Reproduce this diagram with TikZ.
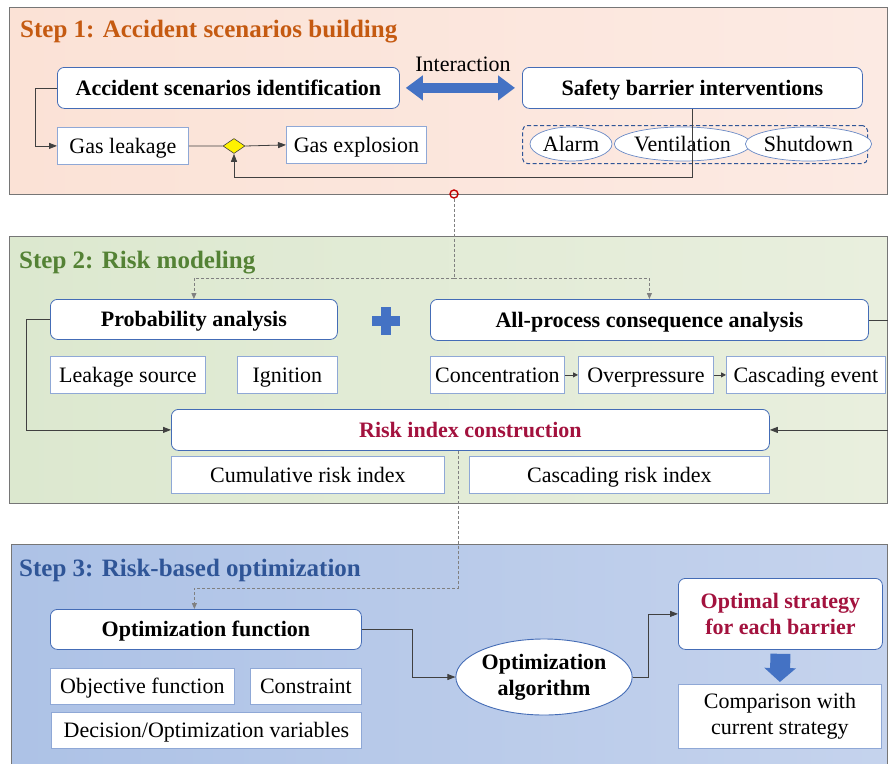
\documentclass[tikz,border=0pt]{standalone}
\usepackage{fontspec}
\setmainfont{Liberation Serif}
\usetikzlibrary{arrows.meta,shapes.geometric}

\definecolor{edgeblue}{RGB}{68,108,182}
\definecolor{softblue}{RGB}{143,168,214}
\definecolor{arrowblue}{RGB}{68,114,196}
\definecolor{dashblue}{RGB}{47,85,151}
\definecolor{linegray}{RGB}{64,64,64}
\definecolor{dashgray}{RGB}{128,128,128}
\definecolor{framegray}{RGB}{118,118,118}
\definecolor{titleorange}{RGB}{197,90,17}
\definecolor{titlegreen}{RGB}{84,130,53}
\definecolor{titleblue}{RGB}{47,85,151}
\definecolor{keyred}{RGB}{163,18,62}
\definecolor{hubred}{RGB}{192,0,0}

\newcommand\bodyfont{\fontsize{22pt}{26pt}\selectfont}
\newcommand\headfont{\fontsize{25pt}{29pt}\selectfont\bfseries}

\begin{document}
\begin{tikzpicture}[x=1pt,y=-1pt,
  every node/.style={font=\bodyfont},
  oneline/.style={text height=17.5pt, text depth=2.5pt},
  panel/.style={draw=framegray, line width=0.8pt, anchor=north west, inner sep=0pt},
  steptitle/.style={anchor=base west, inner sep=0pt, font=\headfont},
  keyframe/.style={draw=edgeblue, fill=white, rounded corners=7pt, line width=0.8pt,
    anchor=north west, inner sep=0pt, font=\bodyfont\bfseries, align=center},
  keybox/.style={keyframe, oneline},
  itemframe/.style={draw=softblue, fill=white, line width=0.8pt, anchor=north west, inner sep=0pt, align=center},
  itembox/.style={itemframe, oneline},
  oval/.style={ellipse, draw=edgeblue!80, fill=white, line width=0.7pt, inner sep=0pt},
  conn/.style={draw=linegray, line width=0.8pt, -{Triangle[length=8pt,width=6pt]}},
  plainline/.style={draw=linegray, line width=0.8pt},
  smallconn/.style={draw=linegray, line width=0.8pt, -{Triangle[length=5pt,width=5pt]}},
  dconn/.style={draw=dashgray, line width=0.8pt, dash pattern=on 3pt off 2pt,
    -{Triangle[length=6pt,width=5pt]}},
  blockarrow/.style={draw=arrowblue, line width=#1}
]
\useasboundingbox (0,0) rectangle (888,763);

% ---------- panels ----------
\node[panel, minimum width=878pt, minimum height=187pt,
      left color={rgb,255:red,251;green,226;blue,214}, right color={rgb,255:red,252;green,234;blue,227}]
      (panel1) at (9,7) {};
\node[panel, minimum width=878pt, minimum height=267pt,
      left color={rgb,255:red,220;green,232;blue,207}, right color={rgb,255:red,233;green,239;blue,222}]
      (panel2) at (9,236) {};
\node[panel, minimum width=876pt, minimum height=221pt,
      left color={rgb,255:red,173;green,194;blue,230}, right color={rgb,255:red,197;green,211;blue,237}]
      (panel3) at (11,544) {};

\node[steptitle, text=titleorange] (t1) at (20,37) {Step 1: Accident scenarios building};
\node[steptitle, text=titlegreen]  (t2) at (19,268) {Step 2: Risk modeling};
\node[steptitle, text=titleblue]   (t3) at (19,576) {Step 3: Risk-based optimization};

% ---------- step 1 ----------
\node[keybox, minimum width=342pt, minimum height=41pt] (asi) at (57,67) {Accident scenarios identification};
\node[keybox, minimum width=340pt, minimum height=41pt] (sbi) at (522,67) {Safety barrier interventions};
\node[oneline] (inter) at (463,64) {Interaction};
\node[draw=dashblue, dash pattern=on 4pt off 2.5pt, rounded corners=5pt, line width=1pt,
      anchor=north west, inner sep=0pt, minimum width=345pt, minimum height=38pt] (barriers) at (522,125) {};
\node[oval, oneline, minimum width=82pt, minimum height=34pt]  (alarm) at (571,144) {Alarm};
\node[oval, oneline, minimum width=129pt, minimum height=34pt] (vent)  at (682.5,144) {Ventilation};
\node[oval, oneline, minimum width=111pt, minimum height=34pt] (shut)  at (808.5,144) {Shutdown};
\node[itembox, minimum width=131pt, minimum height=37pt] (gl) at (57,127) {Gas leakage};
\node[diamond, draw=linegray, fill=yellow, line width=0.6pt, inner sep=0pt,
      minimum width=22pt, minimum height=15pt] (dia) at (234,146) {};
\node[itembox, minimum width=140pt, minimum height=37pt] (ge) at (286,126) {Gas explosion};

\draw[blockarrow=10pt, {Triangle[length=17pt,width=24pt]}-{Triangle[length=17pt,width=24pt]}]
  ([xshift=6pt]asi.east) -- ([xshift=-7pt]sbi.west);
\draw[conn] (asi.west) -- ++(-22,0) |- (gl.west);
\draw[plainline] (gl.east) -- (dia.west);
\draw[conn] (dia.east) -- (ge.west);
\draw[conn] (sbi.south) -- ++(0,68.5) -| (dia.south);

% ---------- step 2 ----------
\node[keybox, minimum width=287pt, minimum height=40pt] (prob) at (50,299) {Probability analysis};
\node[keybox, minimum width=438pt, minimum height=41pt] (allp) at (430,299) {All-process consequence analysis};
\fill[arrowblue] (372,316) rectangle (400,326);
\fill[arrowblue] (381,307) rectangle (391,335);
\node[itembox, minimum width=155pt, minimum height=37pt] (leak) at (50,356) {Leakage source};
\node[itembox, minimum width=100pt, minimum height=37pt] (ign)  at (237,356) {Ignition};
\node[itembox, minimum width=134pt, minimum height=37pt] (conc) at (430,356) {Concentration};
\node[itembox, minimum width=135pt, minimum height=37pt] (over) at (578,356) {Overpressure};
\node[itembox, minimum width=159pt, minimum height=37pt] (casc) at (726,356) {Cascading event};
\node[keybox, minimum width=598pt, minimum height=41pt, text=keyred] (ric) at (171,409) {Risk index construction};
\node[itembox, minimum width=273pt, minimum height=37pt] (cum)  at (171,456) {Cumulative risk index};
\node[itembox, minimum width=300pt, minimum height=37pt] (casr) at (469,456) {Cascading risk index};

\draw[smallconn] (conc.east) -- (over.west);
\draw[smallconn] (over.east) -- (casc.west);
\draw[conn] (prob.west) -- ++(-24,0) |- (ric.west);
\draw[conn] (allp.east) -- ++(40,0) |- (ric.east);

% ---------- step 3 ----------
\node[keybox, minimum width=311pt, minimum height=40pt] (optf) at (50,609) {Optimization function};
\node[itembox, minimum width=184pt, minimum height=36pt] (obj)  at (50,668) {Objective function};
\node[itembox, minimum width=111pt, minimum height=36pt] (cons) at (250,668) {Constraint};
\node[itembox, minimum width=310pt, minimum height=36pt] (dec)  at (51,712) {Decision/Optimization variables};
\node[oval, draw=edgeblue, line width=0.9pt, minimum width=168pt, minimum height=76pt,
      align=center, font=\bodyfont\bfseries] (alg) at (544,677) {Optimization\\algorithm};
\node[keyframe, minimum width=204pt, minimum height=71pt, text=keyred] (opt) at (678,578) {Optimal strategy\\for each barrier};
\node[itemframe, minimum width=203pt, minimum height=64pt] (cmp) at (678,684) {Comparison with\\current strategy};

\draw[conn] (optf.east) -- ++(51,0) |- (alg.west);
\draw[conn] (alg.east) -- ++(16,0) |- (opt.west);
\draw[blockarrow=20pt, -{Triangle[length=14pt,width=31pt]}] ([yshift=-4pt]opt.south) -- ([yshift=2pt]cmp.north);

% ---------- dashed links between steps ----------
\node[circle, draw=hubred, line width=1.4pt, inner sep=0pt, minimum size=8pt] (hub) at (454,194) {};
\coordinate (split1) at (454,278);
\coordinate (split2) at (458,588);
\draw[dconn, -] (hub.south) -- (split1);
\draw[dconn] (split1) -| (prob.north);
\draw[dconn] (split1) -| (allp.north);
\draw[dconn] (ric.south -| split2) -- (split2) -| ([xshift=-11.5pt]optf.north);
\end{tikzpicture}
\end{document}
